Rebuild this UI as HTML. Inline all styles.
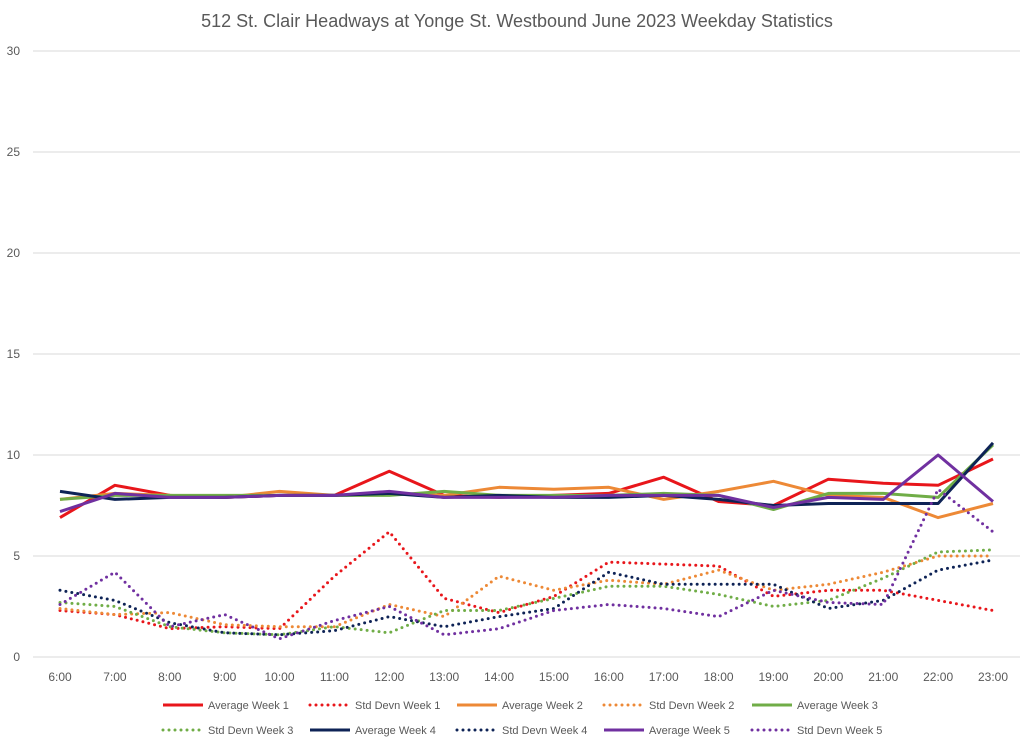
<!DOCTYPE html>
<html><head><meta charset="utf-8"><style>
body{margin:0;background:#fff;font-family:"Liberation Sans",Arial,sans-serif}
svg{display:block}
</style></head><body>
<svg id="chart" width="1024" height="746">
<text x="517" y="27" text-anchor="middle" font-size="18" fill="#595959">512 St. Clair Headways at Yonge St. Westbound June 2023 Weekday Statistics</text>
<g id="grid"></g><g id="series"></g><g id="legend"></g>
</svg>
<script>
const categories=["6:00","7:00","8:00","9:00","10:00","11:00","12:00","13:00","14:00","15:00","16:00","17:00","18:00","19:00","20:00","21:00","22:00","23:00"];
const yTicks=[0,5,10,15,20,25,30];
const avgW1=[6.9,8.5,8.0,7.9,8.0,8.0,9.2,8.0,7.9,8.0,8.1,8.9,7.7,7.5,8.8,8.6,8.5,9.8];
const stdW1=[2.3,2.1,1.4,1.5,1.4,4.0,6.2,2.9,2.2,3.0,4.7,4.6,4.5,3.0,3.3,3.3,2.8,2.3];
const avgW2=[7.8,8.1,8.0,7.9,8.2,8.0,8.1,8.0,8.4,8.3,8.4,7.8,8.2,8.7,8.0,7.9,6.9,7.6];
const stdW2=[2.4,2.1,2.2,1.6,1.5,1.5,2.6,2.0,4.0,3.3,3.8,3.6,4.3,3.3,3.6,4.2,5.0,5.0];
const avgW3=[7.8,8.0,8.0,8.0,8.0,8.0,8.0,8.2,8.0,8.0,8.0,8.1,8.0,7.3,8.1,8.1,7.9,10.5];
const stdW3=[2.7,2.5,1.5,1.2,1.1,1.5,1.2,2.3,2.3,2.9,3.5,3.5,3.1,2.5,2.8,3.9,5.2,5.3];
const avgW4=[8.2,7.8,7.9,7.9,8.0,8.0,8.1,7.9,8.0,7.9,7.9,8.0,7.8,7.5,7.6,7.6,7.6,10.6];
const stdW4=[3.3,2.8,1.7,1.2,1.1,1.3,2.0,1.5,2.0,2.4,4.2,3.6,3.6,3.6,2.4,2.8,4.3,4.8];
const avgW5=[7.2,8.1,7.9,7.9,8.0,8.0,8.2,7.9,7.9,7.9,8.0,8.0,8.0,7.4,7.9,7.8,10.0,7.7];
const stdW5=[2.6,4.2,1.5,2.1,0.9,1.8,2.5,1.1,1.4,2.3,2.6,2.4,2.0,3.3,2.7,2.6,8.3,6.2];
const seriesNames=["Average Week 1","Std Devn Week 1","Average Week 2","Std Devn Week 2","Average Week 3","Std Devn Week 3","Average Week 4","Std Devn Week 4","Average Week 5","Std Devn Week 5"];
const seriesData=[avgW1,stdW1,avgW2,stdW2,avgW3,stdW3,avgW4,stdW4,avgW5,stdW5];
const colors=["#e8161b","#e8161b","#ed8936","#ed8936","#70ad47","#70ad47","#0e2356","#0e2356","#7030a0","#7030a0"];
const NS="http://www.w3.org/2000/svg";
const x=i=>60+i*(993-60)/(categories.length-1);
const y=v=>657-v*(657-51)/30;
function mk(tag,attrs,parent){const e=document.createElementNS(NS,tag);for(const k in attrs)e.setAttribute(k,attrs[k]);parent.appendChild(e);return e;}
const grid=document.getElementById('grid');
yTicks.forEach(t=>{
  const l=mk('line',{x1:33,x2:1020,y1:y(t),y2:y(t),stroke:'#d9d9d9','stroke-width':1},grid);
  
  
  const tx=mk('text',{x:20,y:y(t)+4,'text-anchor':'end','font-size':12,fill:'#595959'},grid);
  tx.textContent=t;
  
  
});
categories.forEach((c,i)=>{
  const tx=mk('text',{x:x(i),y:681,'text-anchor':'middle','font-size':12,fill:'#595959'},grid);
  tx.textContent=c;
  
  
});
const sg=document.getElementById('series');
seriesData.forEach((d,s)=>{
  const dotted=s%2===1;
  const pts=d.map((v,i)=>x(i).toFixed(1)+','+y(v).toFixed(1)).join(' ');
  const p=mk('polyline',{points:pts,fill:'none',stroke:colors[s],'stroke-width':3,'stroke-linejoin':'round','stroke-linecap':dotted?'round':'butt','stroke-dasharray':dotted?'0 6':'none'},sg);
  
  
});
const lg=document.getElementById('legend');
const rowX=[[163,310,457,604,752],[163,310,457,604,752]];
seriesNames.forEach((n,s)=>{
  const row=Math.floor(s/5),col=s%5;
  const lx=rowX[row][col],ly=row===0?705:730;
  const dotted=s%2===1;
  const g=mk('g',{},lg);
  
  
  mk('line',{x1:lx,x2:lx+40,y1:ly,y2:ly,stroke:colors[s],'stroke-width':3,'stroke-linecap':dotted?'round':'butt','stroke-dasharray':dotted?'0 6':'none'},g);
  const t=mk('text',{x:lx+45,y:ly+4,'font-size':11,fill:'#595959'},g);
  t.textContent=n;
});
</script>
</body></html>
